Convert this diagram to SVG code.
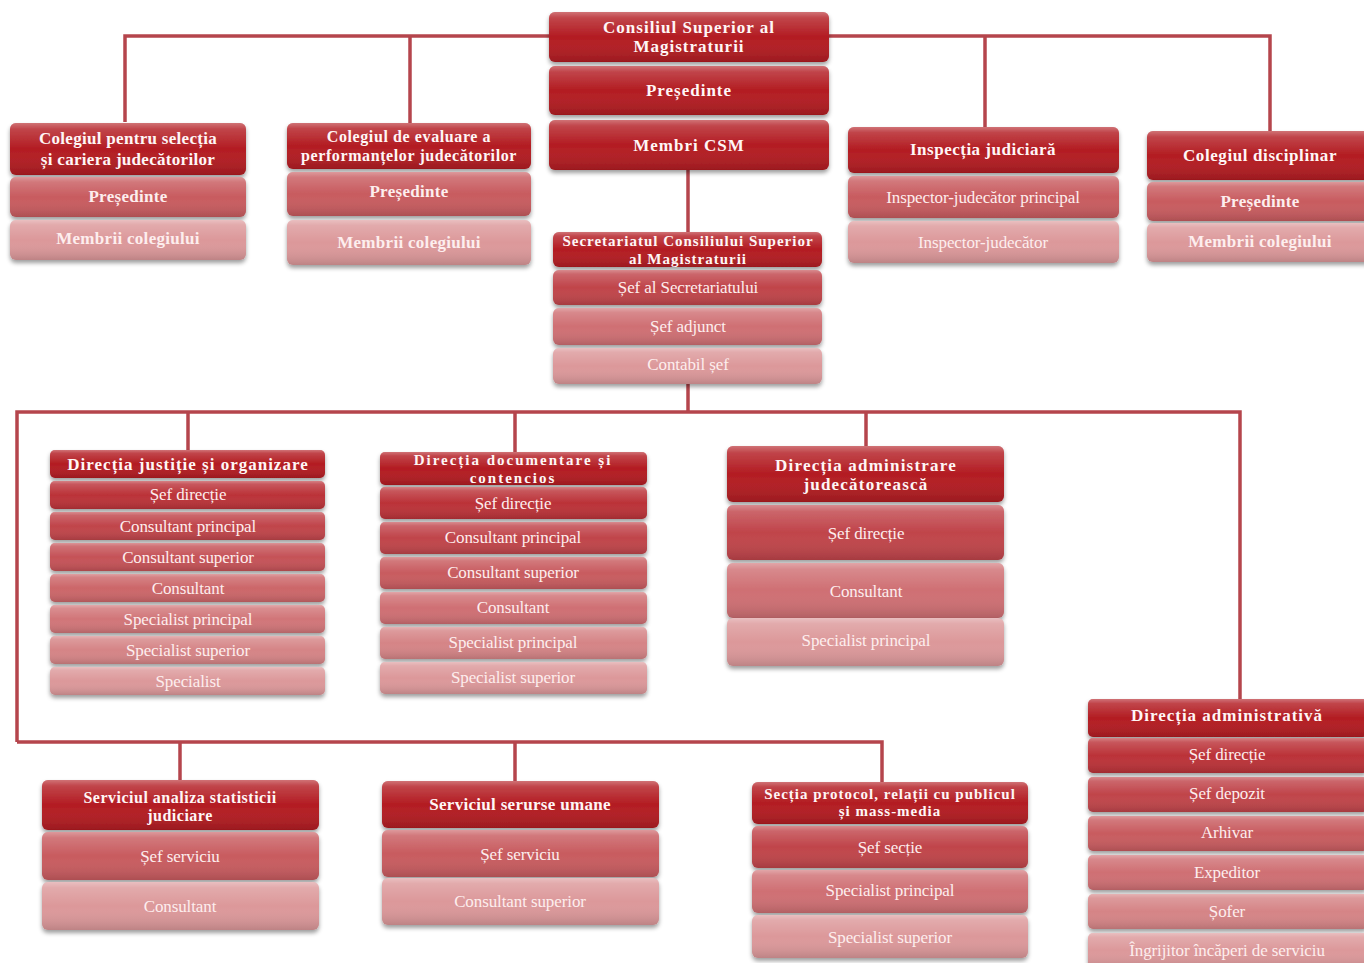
<svg xmlns="http://www.w3.org/2000/svg" width="1364" height="963" viewBox="0 0 1364 963">
<style>
.bg{fill:#ffffff}
.ln{fill:none;stroke:#b5454c;stroke-width:3.5;stroke-linejoin:miter}
.box{filter:url(#sh)}
.gl{fill:url(#gloss)}
.f0{fill:#b31c22}.f1{fill:#bb3238}.f2{fill:#c0444a}.f3{fill:#c55257}.f4{fill:#c85b5f}
.f5{fill:#cc6669}.f6{fill:#cf6f73}.f7{fill:#d17578}.f8{fill:#d58486}.f9{fill:#dc989a}
text{font-family:"Liberation Serif","Times New Roman",serif;text-anchor:middle;dominant-baseline:central}
.ht{font-size:17px;font-weight:bold;fill:#fff6f6;letter-spacing:0.3px}
.sp{letter-spacing:1px}
.h15{font-size:15px;letter-spacing:1px}
.h16{font-size:16px;letter-spacing:0.6px}
.rt{font-size:17px;fill:#fdeeee;letter-spacing:-0.1px}
.rb{font-size:17px;font-weight:bold;fill:#fdeeee;letter-spacing:0.3px}
</style>
<defs>
<linearGradient id="gloss" x1="0" y1="0" x2="0" y2="1">
<stop offset="0" stop-color="#ffffff" stop-opacity="0.38"/>
<stop offset="0.12" stop-color="#ffffff" stop-opacity="0.18"/>
<stop offset="0.5" stop-color="#ffffff" stop-opacity="0"/>
<stop offset="1" stop-color="#000000" stop-opacity="0.14"/>
</linearGradient>
<filter id="sh" x="-5%" y="-10%" width="110%" height="140%">
<feDropShadow dx="0" dy="3" stdDeviation="2.2" flood-color="#000000" flood-opacity="0.38"/>
</filter>
</defs>
<rect class="bg" x="0" y="0" width="1364" height="963"/>

<g id="connectors">
<path class="ln" d="M125,122 V36 H1270 V131"/>
<path class="ln" d="M410,36 V123"/>
<path class="ln" d="M985,36 V127"/>
<path class="ln" d="M688,170 V232"/>
<path class="ln" d="M688,383 V412"/>
<path class="ln" d="M17,742 V412 H1240 V699"/>
<path class="ln" d="M188,412 V450"/>
<path class="ln" d="M515,412 V452"/>
<path class="ln" d="M866,412 V446"/>
<path class="ln" d="M17,742 H882 V782"/>
<path class="ln" d="M180,742 V780"/>
<path class="ln" d="M515,742 V781"/>
</g>

<g id="csm">
<g class="box"><rect class="f0" x="549" y="12" width="280" height="50" rx="6"/><rect class="gl" x="549" y="12" width="280" height="50" rx="6"/></g>
<text class="ht sp" x="689" y="27">Consiliul Superior al</text>
<text class="ht sp" x="689" y="46">Magistraturii</text>
<g class="box"><rect class="f0" x="549" y="66" width="280" height="49" rx="6"/><rect class="gl" x="549" y="66" width="280" height="49" rx="6"/></g>
<text class="ht sp" x="689" y="90">Președinte</text>
<g class="box"><rect class="f0" x="549" y="120" width="280" height="50" rx="6"/><rect class="gl" x="549" y="120" width="280" height="50" rx="6"/></g>
<text class="ht sp" x="689" y="145">Membri CSM</text>
</g>

<g id="colegiul-selectie">
<g class="box"><rect class="f0" x="10" y="123" width="236" height="52" rx="6"/><rect class="gl" x="10" y="123" width="236" height="52" rx="6"/></g>
<text class="ht" x="128" y="138">Colegiul pentru selecția</text>
<text class="ht" x="128" y="159">și cariera judecătorilor</text>
<g class="box"><rect class="f4" x="10" y="177" width="236" height="40" rx="6"/><rect class="gl" x="10" y="177" width="236" height="40" rx="6"/></g>
<text class="rb" x="128" y="196">Președinte</text>
<g class="box"><rect class="f9" x="10" y="220" width="236" height="40" rx="6"/><rect class="gl" x="10" y="220" width="236" height="40" rx="6"/></g>
<text class="rb" x="128" y="238">Membrii colegiului</text>
</g>

<g id="colegiul-evaluare">
<g class="box"><rect class="f0" x="287" y="123" width="244" height="46" rx="6"/><rect class="gl" x="287" y="123" width="244" height="46" rx="6"/></g>
<text class="ht h16" x="409" y="136">Colegiul de evaluare a</text>
<text class="ht h16" x="409" y="155">performanțelor judecătorilor</text>
<g class="box"><rect class="f4" x="287" y="172" width="244" height="44" rx="6"/><rect class="gl" x="287" y="172" width="244" height="44" rx="6"/></g>
<text class="rb" x="409" y="191">Președinte</text>
<g class="box"><rect class="f9" x="287" y="220" width="244" height="45" rx="6"/><rect class="gl" x="287" y="220" width="244" height="45" rx="6"/></g>
<text class="rb" x="409" y="242">Membrii colegiului</text>
</g>

<g id="inspectia">
<g class="box"><rect class="f0" x="848" y="127" width="271" height="46" rx="6"/><rect class="gl" x="848" y="127" width="271" height="46" rx="6"/></g>
<text class="ht" x="983" y="149" style="letter-spacing:0.5px">Inspecția judiciară</text>
<g class="box"><rect class="f4" x="848" y="176" width="271" height="42" rx="6"/><rect class="gl" x="848" y="176" width="271" height="42" rx="6"/></g>
<text class="rt" x="983" y="197">Inspector-judecător principal</text>
<g class="box"><rect class="f9" x="848" y="221" width="271" height="42" rx="6"/><rect class="gl" x="848" y="221" width="271" height="42" rx="6"/></g>
<text class="rt" x="983" y="242">Inspector-judecător</text>
</g>

<g id="colegiul-disciplinar">
<g class="box"><rect class="f0" x="1147" y="131" width="226" height="49" rx="6"/><rect class="gl" x="1147" y="131" width="226" height="49" rx="6"/></g>
<text class="ht" x="1260" y="155" style="letter-spacing:0.6px">Colegiul  disciplinar</text>
<g class="box"><rect class="f4" x="1147" y="182" width="226" height="39" rx="6"/><rect class="gl" x="1147" y="182" width="226" height="39" rx="6"/></g>
<text class="rb" x="1260" y="201">Președinte</text>
<g class="box"><rect class="f9" x="1147" y="223" width="226" height="39" rx="6"/><rect class="gl" x="1147" y="223" width="226" height="39" rx="6"/></g>
<text class="rb" x="1260" y="241">Membrii colegiului</text>
</g>

<g id="secretariat">
<g class="box"><rect class="f0" x="553" y="232" width="269" height="35" rx="6"/><rect class="gl" x="553" y="232" width="269" height="35" rx="6"/></g>
<text class="ht h15" x="688" y="241">Secretariatul Consiliului Superior</text>
<text class="ht h15" x="688" y="258.5">al Magistraturii</text>
<g class="box"><rect class="f2" x="553" y="270" width="269" height="35" rx="6"/><rect class="gl" x="553" y="270" width="269" height="35" rx="6"/></g>
<text class="rt" x="688" y="287">Șef al Secretariatului</text>
<g class="box"><rect class="f6" x="553" y="308" width="269" height="37" rx="6"/><rect class="gl" x="553" y="308" width="269" height="37" rx="6"/></g>
<text class="rt" x="688" y="326">Șef adjunct</text>
<g class="box"><rect class="f9" x="553" y="348" width="269" height="36" rx="6"/><rect class="gl" x="553" y="348" width="269" height="36" rx="6"/></g>
<text class="rt" x="688" y="364">Contabil șef</text>
</g>

<g id="directia-justitie">
<g class="box"><rect class="f0" x="50" y="450" width="275" height="28" rx="5"/><rect class="gl" x="50" y="450" width="275" height="28" rx="5"/></g>
<text class="ht sp" x="188" y="464">Direcția justiție și organizare</text>
<g class="box"><rect class="f1" x="50" y="481" width="275" height="28" rx="5"/><rect class="gl" x="50" y="481" width="275" height="28" rx="5"/></g>
<text class="rt" x="188" y="494">Șef direcție</text>
<g class="box"><rect class="f2" x="50" y="512" width="275" height="28" rx="5"/><rect class="gl" x="50" y="512" width="275" height="28" rx="5"/></g>
<text class="rt" x="188" y="526">Consultant principal</text>
<g class="box"><rect class="f3" x="50" y="543" width="275" height="28" rx="5"/><rect class="gl" x="50" y="543" width="275" height="28" rx="5"/></g>
<text class="rt" x="188" y="557">Consultant superior</text>
<g class="box"><rect class="f5" x="50" y="574" width="275" height="28" rx="5"/><rect class="gl" x="50" y="574" width="275" height="28" rx="5"/></g>
<text class="rt" x="188" y="588">Consultant</text>
<g class="box"><rect class="f7" x="50" y="605" width="275" height="28" rx="5"/><rect class="gl" x="50" y="605" width="275" height="28" rx="5"/></g>
<text class="rt" x="188" y="619">Specialist principal</text>
<g class="box"><rect class="f8" x="50" y="636" width="275" height="28" rx="5"/><rect class="gl" x="50" y="636" width="275" height="28" rx="5"/></g>
<text class="rt" x="188" y="650">Specialist superior</text>
<g class="box"><rect class="f9" x="50" y="667" width="275" height="28" rx="5"/><rect class="gl" x="50" y="667" width="275" height="28" rx="5"/></g>
<text class="rt" x="188" y="681">Specialist</text>
</g>

<g id="directia-documentare">
<g class="box"><rect class="f0" x="380" y="452" width="267" height="33" rx="5"/><rect class="gl" x="380" y="452" width="267" height="33" rx="5"/></g>
<text class="ht h15" x="513" y="460" style="letter-spacing:2px">Direcția documentare și</text>
<text class="ht h15" x="513" y="477.5" style="letter-spacing:2px">contencios</text>
<g class="box"><rect class="f1" x="380" y="487" width="267" height="32" rx="5"/><rect class="gl" x="380" y="487" width="267" height="32" rx="5"/></g>
<text class="rt" x="513" y="503">Șef direcție</text>
<g class="box"><rect class="f2" x="380" y="522" width="267" height="32" rx="5"/><rect class="gl" x="380" y="522" width="267" height="32" rx="5"/></g>
<text class="rt" x="513" y="537">Consultant principal</text>
<g class="box"><rect class="f4" x="380" y="557" width="267" height="32" rx="5"/><rect class="gl" x="380" y="557" width="267" height="32" rx="5"/></g>
<text class="rt" x="513" y="572">Consultant superior</text>
<g class="box"><rect class="f6" x="380" y="592" width="267" height="32" rx="5"/><rect class="gl" x="380" y="592" width="267" height="32" rx="5"/></g>
<text class="rt" x="513" y="607">Consultant</text>
<g class="box"><rect class="f8" x="380" y="627" width="267" height="32" rx="5"/><rect class="gl" x="380" y="627" width="267" height="32" rx="5"/></g>
<text class="rt" x="513" y="642">Specialist principal</text>
<g class="box"><rect class="f9" x="380" y="662" width="267" height="32" rx="5"/><rect class="gl" x="380" y="662" width="267" height="32" rx="5"/></g>
<text class="rt" x="513" y="677">Specialist superior</text>
</g>

<g id="directia-administrare">
<g class="box"><rect class="f0" x="727" y="446" width="277" height="56" rx="6"/><rect class="gl" x="727" y="446" width="277" height="56" rx="6"/></g>
<text class="ht" x="866" y="465" style="letter-spacing:1.2px">Direcția administrare</text>
<text class="ht" x="866" y="484.5" style="letter-spacing:1.2px">judecătorească</text>
<g class="box"><rect class="f2" x="727" y="505" width="277" height="55" rx="6"/><rect class="gl" x="727" y="505" width="277" height="55" rx="6"/></g>
<text class="rt" x="866" y="533">Șef direcție</text>
<g class="box"><rect class="f6" x="727" y="563" width="277" height="55" rx="6"/><rect class="gl" x="727" y="563" width="277" height="55" rx="6"/></g>
<text class="rt" x="866" y="591">Consultant</text>
<g class="box"><rect class="f9" x="727" y="618" width="277" height="48" rx="6"/><rect class="gl" x="727" y="618" width="277" height="48" rx="6"/></g>
<text class="rt" x="866" y="640">Specialist principal</text>
</g>

<g id="directia-administrativa">
<g class="box"><rect class="f0" x="1088" y="699" width="280" height="38" rx="5"/><rect class="gl" x="1088" y="699" width="280" height="38" rx="5"/></g>
<text class="ht sp" x="1227" y="715">Direcția administrativă</text>
<g class="box"><rect class="f1" x="1088" y="738" width="280" height="35" rx="5"/><rect class="gl" x="1088" y="738" width="280" height="35" rx="5"/></g>
<text class="rt" x="1227" y="754">Șef direcție</text>
<g class="box"><rect class="f2" x="1088" y="777" width="280" height="35" rx="5"/><rect class="gl" x="1088" y="777" width="280" height="35" rx="5"/></g>
<text class="rt" x="1227" y="793">Șef depozit</text>
<g class="box"><rect class="f4" x="1088" y="816" width="280" height="35" rx="5"/><rect class="gl" x="1088" y="816" width="280" height="35" rx="5"/></g>
<text class="rt" x="1227" y="832">Arhivar</text>
<g class="box"><rect class="f6" x="1088" y="855" width="280" height="35" rx="5"/><rect class="gl" x="1088" y="855" width="280" height="35" rx="5"/></g>
<text class="rt" x="1227" y="872">Expeditor</text>
<g class="box"><rect class="f8" x="1088" y="894" width="280" height="35" rx="5"/><rect class="gl" x="1088" y="894" width="280" height="35" rx="5"/></g>
<text class="rt" x="1227" y="911">Șofer</text>
<g class="box"><rect class="f9" x="1088" y="933" width="280" height="35" rx="5"/><rect class="gl" x="1088" y="933" width="280" height="35" rx="5"/></g>
<text class="rt" x="1227" y="950">Îngrijitor încăperi de serviciu</text>
</g>

<g id="serviciul-analiza">
<g class="box"><rect class="f0" x="42" y="780" width="277" height="50" rx="6"/><rect class="gl" x="42" y="780" width="277" height="50" rx="6"/></g>
<text class="ht h16" x="180" y="797" style="letter-spacing:0.5px">Serviciul analiza statisticii</text>
<text class="ht h16" x="180" y="815" style="letter-spacing:0.5px">judiciare</text>
<g class="box"><rect class="f4" x="42" y="832" width="277" height="48" rx="6"/><rect class="gl" x="42" y="832" width="277" height="48" rx="6"/></g>
<text class="rt" x="180" y="856">Șef serviciu</text>
<g class="box"><rect class="f9" x="42" y="882" width="277" height="48" rx="6"/><rect class="gl" x="42" y="882" width="277" height="48" rx="6"/></g>
<text class="rt" x="180" y="906">Consultant</text>
</g>

<g id="serviciul-resurse">
<g class="box"><rect class="f0" x="382" y="781" width="277" height="47" rx="6"/><rect class="gl" x="382" y="781" width="277" height="47" rx="6"/></g>
<text class="ht" x="520" y="804">Serviciul serurse umane</text>
<g class="box"><rect class="f4" x="382" y="830" width="277" height="47" rx="6"/><rect class="gl" x="382" y="830" width="277" height="47" rx="6"/></g>
<text class="rt" x="520" y="854">Șef serviciu</text>
<g class="box"><rect class="f9" x="382" y="878" width="277" height="47" rx="6"/><rect class="gl" x="382" y="878" width="277" height="47" rx="6"/></g>
<text class="rt" x="520" y="901">Consultant superior</text>
</g>

<g id="sectia-protocol">
<g class="box"><rect class="f0" x="752" y="782" width="276" height="42" rx="6"/><rect class="gl" x="752" y="782" width="276" height="42" rx="6"/></g>
<text class="ht h15" x="890" y="793.5">Secția protocol, relații cu publicul</text>
<text class="ht h15" x="890" y="811">și mass-media</text>
<g class="box"><rect class="f2" x="752" y="826" width="276" height="42" rx="6"/><rect class="gl" x="752" y="826" width="276" height="42" rx="6"/></g>
<text class="rt" x="890" y="847">Șef secție</text>
<g class="box"><rect class="f6" x="752" y="870" width="276" height="43" rx="6"/><rect class="gl" x="752" y="870" width="276" height="43" rx="6"/></g>
<text class="rt" x="890" y="890">Specialist principal</text>
<g class="box"><rect class="f9" x="752" y="915" width="276" height="43" rx="6"/><rect class="gl" x="752" y="915" width="276" height="43" rx="6"/></g>
<text class="rt" x="890" y="937">Specialist superior</text>
</g>
</svg>
